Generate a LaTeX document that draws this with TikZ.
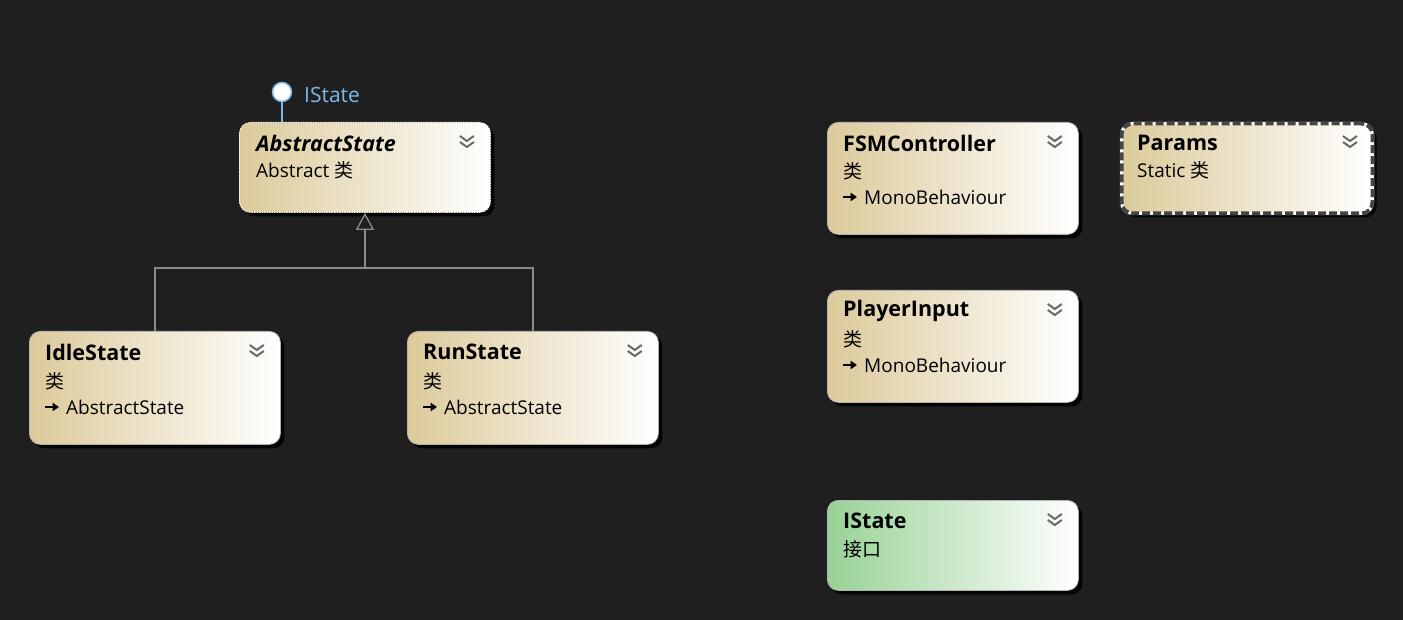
\documentclass[tikz,border=0pt]{standalone}
\usepackage{fontspec}
\setmainfont{Open Sans}
\newfontfamily\cjk{Noto Sans CJK SC}
\usetikzlibrary{shadows,arrows.meta,calc}
\definecolor{bg}{HTML}{1F1F1F}
\definecolor{tan}{HTML}{DCCA9A}
\definecolor{mint}{HTML}{98D296}
\definecolor{edgec}{HTML}{8C8C8C}
\definecolor{lolli}{HTML}{7DB8E8}
\definecolor{chev}{HTML}{6A6A6A}
\definecolor{dashc}{HTML}{454545}
\begin{document}
\begin{tikzpicture}[x=1pt,y=-1pt,
  box/.style={rounded corners=11pt, minimum width=251pt, inner sep=0pt, anchor=north west,
    left color=tan, right color=white, draw=gray!60, line width=0.8pt,
    drop shadow={shadow xshift=4pt, shadow yshift=-4pt, fill=black, opacity=0.85}},
  ibox/.style={box, left color=mint},
  abox/.style={box, draw=white, line width=0.9pt, dash pattern=on 1.5pt off 1pt},
  sbox/.style={box, draw=white, line width=3pt,
    postaction={draw=dashc, line width=4pt, dash pattern=on 8pt off 3pt}},
  ttl/.style={anchor=west, inner sep=0pt, font=\fontsize{21.5}{24}\selectfont\bfseries, text=black},
  sub/.style={anchor=west, inner sep=0pt, font=\fontsize{19}{21}\selectfont, text=black},
  glyph/.style={line width=1.2pt, -{Triangle[length=6.5pt,width=8.5pt]}},
  chevs/.style={draw=chev, line width=2pt},
  edge/.style={draw=edgec, line width=1.3pt},
]
\useasboundingbox[fill=bg] (0,0) rectangle (1403,620);

% boxes
\node[abox, minimum height=90pt] (abs) at (239,122) {};
\node[box, minimum height=113pt] (idle) at (29,331) {};
\node[box, minimum height=113pt] (run) at (407,331) {};
\node[box, minimum height=112pt] (fsm) at (827,122) {};
\node[sbox, minimum height=90pt] (par) at (1120,122) {};
\node[box, minimum height=112pt] (pin) at (827,290) {};
\node[ibox, minimum height=90pt] (ist) at (827,500) {};

% chevrons
\foreach \b in {abs,idle,run,fsm,par,pin,ist}{
  \coordinate (c) at ($(\b.north east)+(-24,20)$);
  \draw[chevs] ($(c)+(-7,-6)$) -- ($(c)+(0,-1)$) -- ($(c)+(7,-6)$);
  \draw[chevs] ($(c)+(-7,0)$) -- ($(c)+(0,5)$) -- ($(c)+(7,0)$);
}

% texts
\node[ttl, font=\fontsize{21.5}{24}\selectfont\bfseries\itshape] (abs-t) at ($(abs.north west)+(17,21)$) {AbstractState};
\node[sub] (abs-s) at ($(abs.north west)+(17,48)$) {Abstract {\cjk 类}};

\node[ttl] (idle-t) at ($(idle.north west)+(16,21)$) {IdleState};
\node[sub] (idle-s) at ($(idle.north west)+(16,50)$) {\cjk 类};
\node[sub] (idle-b) at ($(idle.north west)+(37,76)$) {AbstractState};
\draw[glyph] ($(idle.north west)+(16,76)$) -- ++(14,0);

\node[ttl] (run-t) at ($(run.north west)+(16,21)$) {RunState};
\node[sub] (run-s) at ($(run.north west)+(16,50)$) {\cjk 类};
\node[sub] (run-b) at ($(run.north west)+(37,76)$) {AbstractState};
\draw[glyph] ($(run.north west)+(16,76)$) -- ++(14,0);

\node[ttl] (fsm-t) at ($(fsm.north west)+(16,21)$) {FSMController};
\node[sub] (fsm-s) at ($(fsm.north west)+(16,49)$) {\cjk 类};
\node[sub] (fsm-b) at ($(fsm.north west)+(37,75)$) {MonoBehaviour};
\draw[glyph] ($(fsm.north west)+(16,75)$) -- ++(14,0);

\node[ttl] (par-t) at ($(par.north west)+(17,21)$) {Params};
\node[sub] (par-s) at ($(par.north west)+(17,48)$) {Static {\cjk 类}};

\node[ttl] (pin-t) at ($(pin.north west)+(16,21)$) {PlayerInput};
\node[sub] (pin-s) at ($(pin.north west)+(16,49)$) {\cjk 类};
\node[sub] (pin-b) at ($(pin.north west)+(37,75)$) {MonoBehaviour};
\draw[glyph] ($(pin.north west)+(16,75)$) -- ++(14,0);

\node[ttl] (ist-t) at ($(ist.north west)+(16,21)$) {IState};
\node[sub] (ist-s) at ($(ist.north west)+(16,49)$) {\cjk 接口};

% lollipop
\node[circle, draw=lolli, fill=white, line width=1.5pt, minimum size=19pt, inner sep=0pt] (lol) at (282,92) {};
\coordinate (lolb) at ($(abs.north west)+(43,0)$);
\draw[draw=lolli, line width=1.5pt] (lol) -- (lolb);
\node[anchor=west, inner sep=0pt, text=lolli, font=\fontsize{21}{23}\selectfont] (lol-t) at (304,95) {IState};

% inheritance
\coordinate (j) at (abs.south |- 0,268);
\draw[edge] (idle.north) |- (j) -| (run.north);
\draw[edge, -{Triangle[open, fill=bg, length=17pt, width=18pt]}] (j) -- (abs.south);
\end{tikzpicture}
\end{document}
